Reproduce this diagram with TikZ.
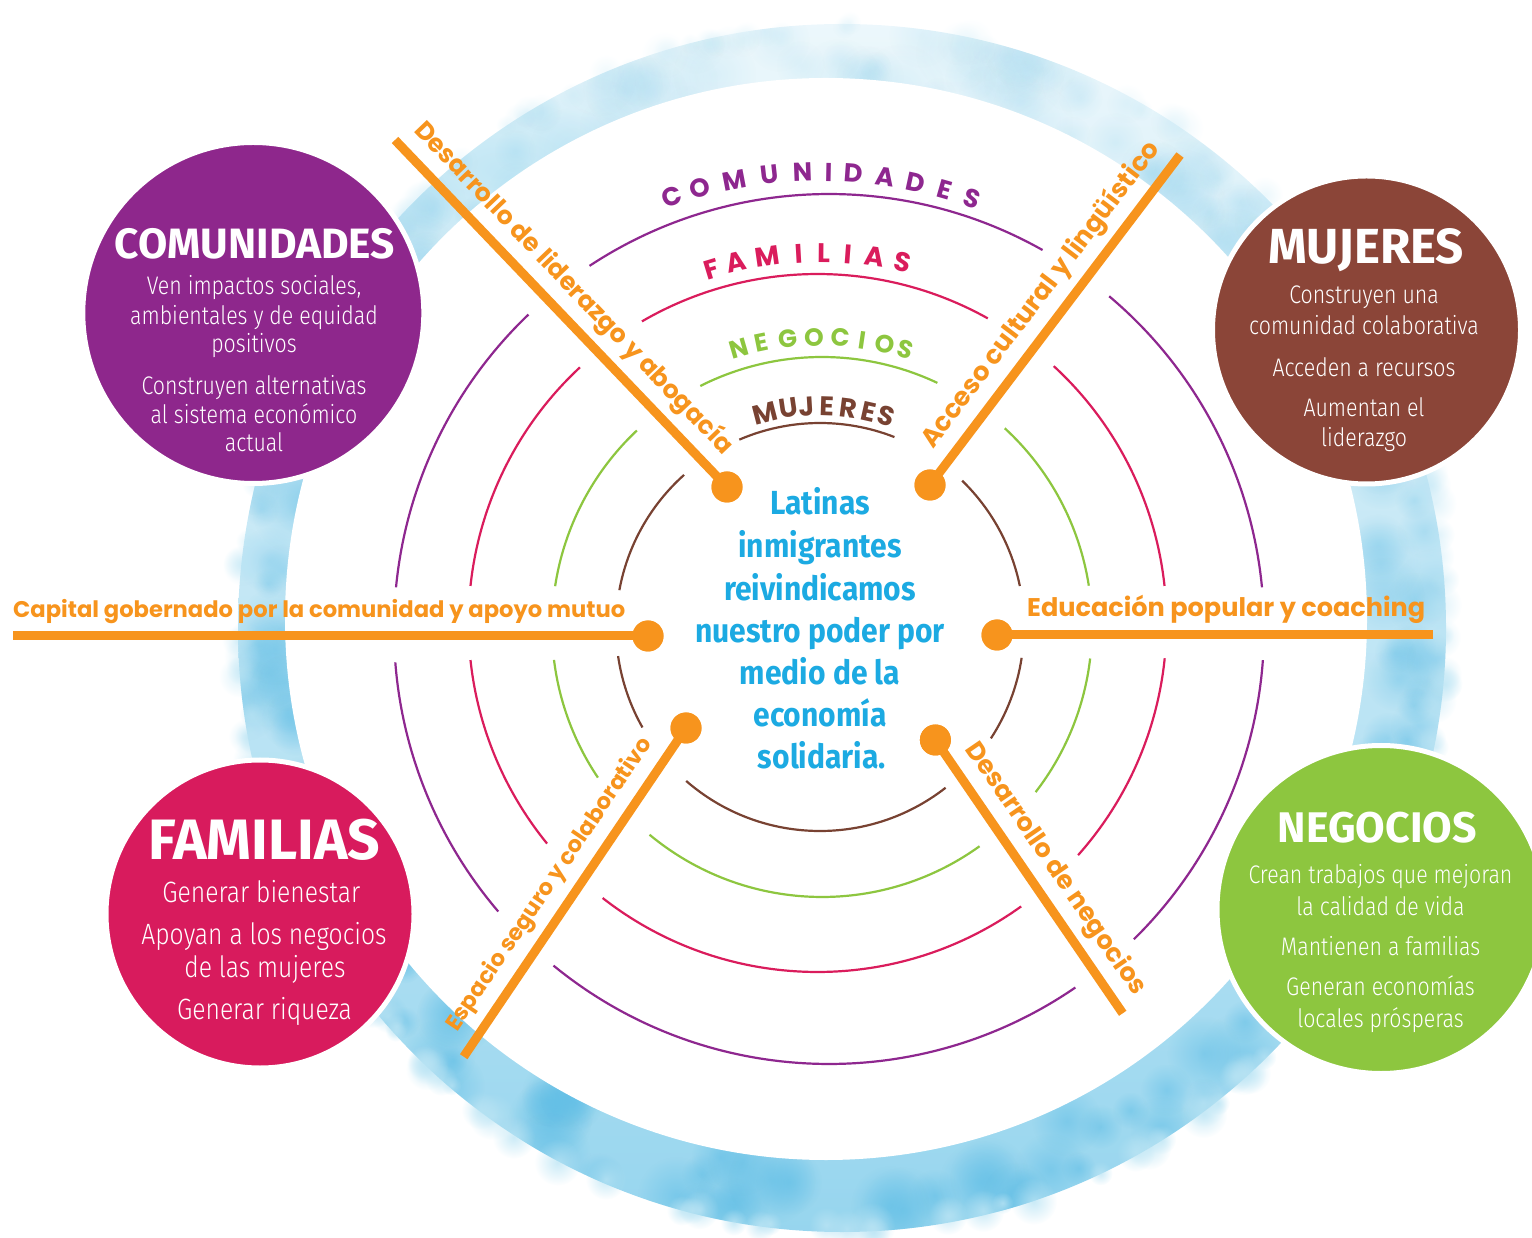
\documentclass[tikz,border=0pt]{standalone}
\usepackage{fontspec}
\usepackage{graphicx}
\setmainfont{Liberation Sans}
\newfontfamily\bodyfont[FakeStretch=0.84]{Fira Sans Light}
\newfontfamily\ctrfont[FakeStretch=0.9]{Fira Sans}
\newfontfamily\spokefont{Poppins}
\newfontfamily\titlefont{Fira Sans}
\usetikzlibrary{calc,fadings}
\tikzfading[name=softblot, inner color=transparent!0, outer color=transparent!100]
\definecolor{purpleC}{RGB}{142,39,140}
\definecolor{brownC}{RGB}{139,69,56}
\definecolor{pinkC}{RGB}{216,27,93}
\definecolor{greenC}{RGB}{141,198,63}
\definecolor{orangeC}{RGB}{247,148,29}
\definecolor{blueT}{RGB}{28,170,226}
\definecolor{wcTop}{RGB}{238,248,252}
\definecolor{wcMid}{RGB}{186,228,244}
\definecolor{wcBot}{RGB}{150,213,238}
\definecolor{wcDark}{RGB}{95,190,230}
\definecolor{ringP}{RGB}{142,39,143}
\definecolor{ringR}{RGB}{218,28,92}
\definecolor{ringG}{RGB}{141,198,63}
\definecolor{ringB}{RGB}{120,66,50}
\begin{document}
\begin{tikzpicture}[x=1bp,y=1bp,
  ringline/.style={line width=2.2bp},
  spokeline/.style={draw=orangeC, line width=9bp, line cap=butt},
  dotn/.style={circle, fill=orangeC, minimum size=31bp, inner sep=0pt},
  bigc/.style={circle, draw=white, line width=5bp, inner sep=0pt},
  bodyt/.style={text=white, anchor=base, inner sep=0pt, font=\bodyfont\fontsize{25.5}{30}\selectfont},
  famt/.style={bodyt, font=\bodyfont\fontsize{29.5}{34}\selectfont},
  titlet/.style={text=white, anchor=base, inner sep=0pt, font=\titlefont\bfseries\fontsize{36}{40}\selectfont},
  ctrt/.style={text=blueT, anchor=base, inner sep=0pt, font=\ctrfont\bfseries\fontsize{33.5}{40}\selectfont},
  spoket/.style={text=orangeC, inner sep=0pt, anchor=base west, font=\spokefont\bfseries\fontsize{23}{26}\selectfont},
  ringlet/.style={inner sep=0pt, anchor=center, font=\spokefont\bfseries\fontsize{26}{28}\selectfont},
  blot/.style={path fading=softblot},
]
\useasboundingbox (0,0) rectangle (1532,1237);
\clip (0,0) rectangle (1532,1237);

% watercolor ring
\pgfmathsetseed{42}
\begin{scope}
  \clip (842,609) circle[radius=604];
  \shade[top color=wcTop, middle color=wcMid, bottom color=wcBot] (200,-5) rectangle (1480,1245);
  \fill[wcMid, opacity=0.8, blot] (500,1067) ellipse[x radius=190, y radius=110];
  \foreach \i in {1,...,220}{
    \pgfmathsetmacro{\ang}{360*rnd}
    \pgfmathsetmacro{\rr}{540+66*rnd}
    \pgfmathsetmacro{\bs}{14+30*rnd}
    \pgfmathsetmacro{\op}{0.10+0.45*(1-sin(\ang))/2}
    \fill[wcDark, opacity=\op, blot] ($(842,609)+(\ang:\rr)$) circle[radius=\bs];
  }
\end{scope}
\foreach \i in {1,...,160}{
  \pgfmathsetmacro{\ang}{360*rnd}
  \pgfmathsetmacro{\rr}{596+10*rnd}
  \pgfmathsetmacro{\bs}{10+14*rnd}
  \pgfmathsetmacro{\op}{0.2+0.6*(1-sin(\ang))/2}
  \fill[wcMid, opacity=\op, blot] ($(842,609)+(\ang:\rr)$) circle[radius=\bs];
}
\fill[white] (826,618) circle[radius=541];

% centres of the rings
\coordinate (cB) at (820,610);
\coordinate (cG) at (822,610);
\coordinate (cR) at (817.5,614);
\coordinate (cP) at (829,608);
\coordinate (cL) at (820,610);

% rings
\foreach \a/\b in {68.6/113.3, 131.8/169.6, 188.2/209.5, 229/308, 326.9/351.3, 11.6/45.8}
  \draw[ringline, ringB] ($(cB)+(\a:204)$) arc[start angle=\a, end angle=\b, radius=204];
\foreach \a/\b in {64.7/116.8, 133.3/171.3, 187/213.9, 230.3/305.7, 322.3/353.3, 8.8/47.4}
  \draw[ringline, ringG] ($(cG)+(\a:270)$) arc[start angle=\a, end angle=\b, radius=270];
\foreach \a/\b in {60.8/120.2, 132.9/173.9, 186.1/219.2, 232/305.7, 318.3/354.2, 6.1/47.4}
  \draw[ringline, ringR] ($(cR)+(\a:349)$) arc[start angle=\a, end angle=\b, radius=349];
\foreach \a/\b in {60.6/123.4, 133.7/174.5, 184.4/220.5, 230.7/304.5, 314.5/355.9, 5.5/49.9}
  \draw[ringline, ringP] ($(cP)+(\a:435)$) arc[start angle=\a, end angle=\b, radius=435];

% ring labels
\foreach \l/\t [count=\i] in {C/108.97,O/105.33,M/100.79,U/96.41,N/92.21,I/88.90,D/85.79,A/81.81,D/77.83,E/74.03,S/70.50}
  \node[ringlet, text=ringP, rotate=\t-90] (lc\i) at ($(cL)+(\t:455)$) {\l};
\foreach \l/\t [count=\i] in {F/106.9,A/102.98,M/98.14,I/93.31,L/89.46,I/85.70,A/81.67,S/77.20}
  \node[ringlet, text=ringR, font=\spokefont\bfseries\fontsize{27}{29}\selectfont, rotate=\t-90] (lf\i) at ($(cL)+(\t:374)$) {\l};
\foreach \l/\t [count=\i] in {N/106.25,E/101.59,G/96.35,O/91.18,C/86.0,I/81.66,O/77.15,S/72.98}
  \node[ringlet, text=ringG, font=\spokefont\bfseries\fontsize{25}{27}\selectfont, rotate=\t-90] (ln\i) at ($(cL)+(\t:290)$) {\l};
\foreach \l/\t [count=\i] in {M/104.48,U/98.32,J/93.56,E/88.13,R/82.72,E/77.28,S/72.47}
  \node[ringlet, text=ringB, font=\spokefont\bfseries\fontsize{27}{29}\selectfont, rotate=\t-90] (lm\i) at ($(cL)+(\t:221)$) {\l};

% outer circles
\node[bigc, fill=purpleC, minimum size=341bp] (comC) at (253.3,924) {};
\node[bigc, fill=brownC, minimum size=308bp] (mujC) at (1366.5,907) {};
\node[bigc, fill=pinkC, minimum size=308bp] (famC) at (260,323) {};
\node[bigc, fill=greenC, minimum size=328bp] (negC) at (1381,327.5) {};

% COMUNIDADES
\node[titlet] (comT) at (255,978.7) {\resizebox{280bp}{!}{COMUNIDADES}};
\node[bodyt] (com1) at (254,942) {Ven impactos sociales,};
\node[bodyt] (com2) at (254,912) {ambientales y de equidad};
\node[bodyt] (com3) at (254,884.3) {positivos};
\node[bodyt] (com4) at (254,842) {Construyen alternativas};
\node[bodyt] (com5) at (254,813.7) {al sistema económico};
\node[bodyt] (com6) at (254,785.3) {actual};

% MUJERES
\node[titlet] (mujT) at (1366,973.7) {\resizebox{196bp}{!}{MUJERES}};
\node[bodyt] (muj1) at (1364,933) {Construyen una};
\node[bodyt] (muj2) at (1364,902) {comunidad colaborativa};
\node[bodyt] (muj3) at (1364,860.3) {Acceden a recursos};
\node[bodyt] (muj4) at (1364,820.3) {Aumentan el};
\node[bodyt] (muj5) at (1364,790.3) {liderazgo};

% FAMILIAS
\node[titlet] (famT) at (264.2,378) {\resizebox{232bp}{!}{FAMILIAS}};
\node[famt] (fam1) at (261.3,334.3) {Generar bienestar};
\node[famt] (fam2) at (264,293) {Apoyan a los negocios};
\node[famt] (fam3) at (265,259.3) {de las mujeres};
\node[famt] (fam4) at (264.5,217.7) {Generar riqueza};

% NEGOCIOS
\node[titlet] (negT) at (1377.2,394.3) {\resizebox{199bp}{!}{NEGOCIOS}};
\node[bodyt] (neg1) at (1380.5,353.7) {Crean trabajos que mejoran};
\node[bodyt] (neg2) at (1380.5,322) {la calidad de vida};
\node[bodyt] (neg3) at (1380.5,282) {Mantienen a familias};
\node[bodyt] (neg4) at (1380.5,241.3) {Generan economías};
\node[bodyt] (neg5) at (1380.5,209.7) {locales prósperas};

% centre text
\node[ctrt] (ct1) at (820,722) {Latinas};
\node[ctrt] (ct2) at (820,679.7) {inmigrantes};
\node[ctrt] (ct3) at (820,636.3) {reivindicamos};
\node[ctrt] (ct4) at (820,594.7) {nuestro poder por};
\node[ctrt] (ct5) at (820,552) {medio de la};
\node[ctrt] (ct6) at (820,510.3) {economía};
\node[ctrt] (ct7) at (822,468.7) {solidaria.};

% spokes
\node[dotn] (d1) at (727,750) {};
\node[dotn] (d2) at (930,752) {};
\node[dotn] (d3) at (648,601) {};
\node[dotn] (d4) at (997,602) {};
\node[dotn] (d5) at (686,509) {};
\node[dotn] (d6) at (935.4,497) {};
\coordinate (e1) at (395,1097);
\coordinate (e2) at (1180,1082);
\coordinate (e3) at (13,601);
\coordinate (e4) at (1433,602);
\coordinate (e5) at (463.7,180.3);
\coordinate (e6) at (1122.7,223.7);
\foreach \k in {1,...,6} \draw[spokeline] (e\k) -- (d\k.center);
\foreach \k in {1,...,6} \node[dotn] (dd\k) at (d\k) {};

% spoke labels
\node[spoket, rotate=-46.27] (s1) at (412.9,1105.8) {\resizebox{449bp}{!}{Desarrollo de liderazgo y abogacía}};
\node[spoket, rotate=52.85] (s2) at (933,787.4) {\resizebox{377bp}{!}{Acceso cultural y lingüístico}};
\node[spoket] (s3) at (13,619) {\resizebox{612bp}{!}{Capital gobernado por la comunidad y apoyo mutuo}};
\node[spoket] (s4) at (1027,620) {\resizebox{398bp}{!}{Educación popular y coaching}};
\node[spoket, rotate=55.93] (s5) at (456.9,204.2) {\resizebox{349bp}{!}{Espacio seguro y colaborativo}};
\node[spoket, rotate=-55.58] (s6) at (964.6,487.9) {\resizebox{300bp}{!}{Desarrollo de negocios}};
\end{tikzpicture}
\end{document}
